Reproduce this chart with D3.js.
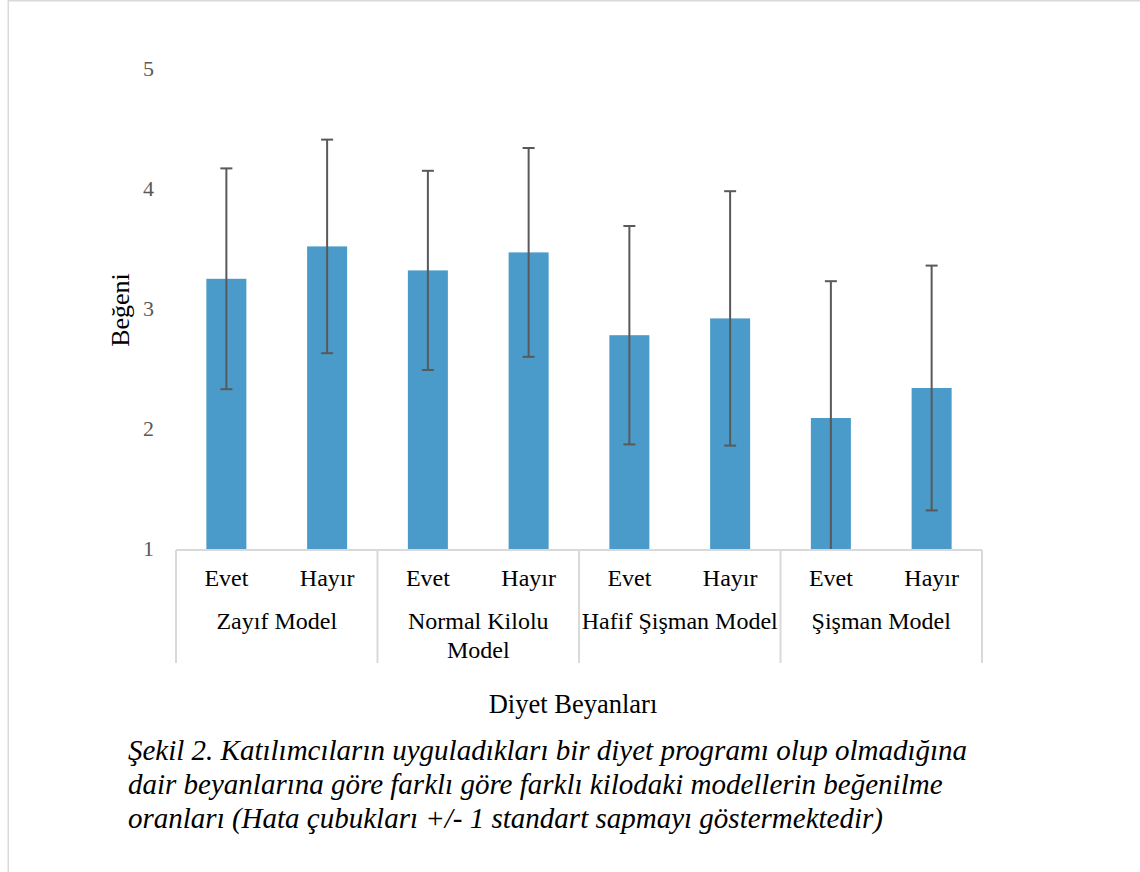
<!DOCTYPE html>
<html>
<head>
<meta charset="utf-8">
<script src="https://cdn.jsdelivr.net/npm/d3@7"></script>
<style>
  html, body { margin: 0; padding: 0; background: #fff; }
  svg { display: block; }
  text { font-family: "Liberation Serif", "Times New Roman", serif; }
</style>
</head>
<body>
<svg id="chart" width="1140" height="872"></svg>
<script>
// Model groups and the two diet answers within each group
const groups = ["Zayıf Model", "Normal Kilolu Model", "Hafif Şişman Model", "Şişman Model"];
const groupLines = [["Zayıf Model"], ["Normal Kilolu", "Model"], ["Hafif Şişman Model"], ["Şişman Model"]];
const answers = ["Evet", "Hayır"];

// Mean liking score per bar (group order, Evet then Hayır)
const means = [3.26, 3.53, 3.33, 3.48, 2.79, 2.93, 2.10, 2.35];
// One standard deviation per bar
const sds = [0.92, 0.89, 0.83, 0.87, 0.91, 1.06, 1.14, 1.02];

const yTicks = [1, 2, 3, 4, 5];

const captionLines = [
  "Şekil 2. Katılımcıların uyguladıkları bir diyet programı olup olmadığına",
  "dair beyanlarına göre farklı göre farklı kilodaki modellerin beğenilme",
  "oranları (Hata çubukları +/- 1 standart sapmayı göstermektedir)"
];

const bars = means.map((m, i) => ({
  key: groups[Math.floor(i / 2)] + "|" + answers[i % 2],
  group: groups[Math.floor(i / 2)],
  answer: answers[i % 2],
  mean: m,
  sd: sds[i]
}));

const svg = d3.select("#chart");
const gridColor = "#d9d9d9";

// Outer frame lines
svg.append("line").attr("x1", 8).attr("x2", 1140).attr("y1", 0.75).attr("y2", 0.75)
  .attr("stroke", gridColor).attr("stroke-width", 1.5);
svg.append("line").attr("x1", 8.25).attr("x2", 8.25).attr("y1", 0).attr("y2", 872)
  .attr("stroke", gridColor).attr("stroke-width", 1.5);

const plot = { left: 176, right: 982, top: 70, bottom: 550 };

const y = d3.scaleLinear().domain([1, 5]).range([plot.bottom, plot.top]);
const x = d3.scaleBand().domain(bars.map(d => d.key))
  .range([plot.left, plot.right]).paddingInner(0.603).paddingOuter(0.3015);
const xGroup = d3.scaleBand().domain(groups).range([plot.left, plot.right]);

// Y axis labels only
const yAxis = svg.append("g").attr("transform", `translate(${plot.left},0)`)
  .call(d3.axisLeft(y).tickValues(yTicks).tickFormat(d3.format("d")).tickSize(0).tickPadding(22));
yAxis.select(".domain").remove();
yAxis.selectAll("text").attr("font-family", "Liberation Serif, serif")
  .attr("font-size", 22).attr("fill", "#595959").attr("dy", "0.25em");

// Bars
svg.append("g").selectAll("rect").data(bars).join("rect")
  .attr("x", d => x(d.key)).attr("width", x.bandwidth())
  .attr("y", d => y(d.mean)).attr("height", d => y(1) - y(d.mean))
  .attr("fill", "#4a9bca");

// Error bars (+/- 1 SD), clipped to the axis minimum
const capW = 12;
const err = svg.append("g").attr("stroke", "#595959").attr("stroke-width", 2);
bars.forEach(d => {
  const cx = x(d.key) + x.bandwidth() / 2;
  const hi = d.mean + d.sd;
  const loRaw = d.mean - d.sd;
  const lo = Math.max(1, loRaw);
  err.append("line").attr("x1", cx).attr("x2", cx).attr("y1", y(hi)).attr("y2", y(lo));
  err.append("line").attr("x1", cx - capW / 2).attr("x2", cx + capW / 2).attr("y1", y(hi)).attr("y2", y(hi));
  if (loRaw >= 1) {
    err.append("line").attr("x1", cx - capW / 2).attr("x2", cx + capW / 2).attr("y1", y(lo)).attr("y2", y(lo));
  }
});

// Category axis: baseline and group dividers
const axisG = svg.append("g").attr("stroke", gridColor).attr("stroke-width", 2);
axisG.append("line").attr("x1", plot.left).attr("x2", plot.right)
  .attr("y1", plot.bottom).attr("y2", plot.bottom);
const dividers = groups.map(g => xGroup(g)).concat([plot.right]);
axisG.selectAll("line.div").data(dividers).join("line").attr("class", "div")
  .attr("x1", d => d).attr("x2", d => d).attr("y1", plot.bottom).attr("y2", 663);

// Answer labels under each bar
svg.append("g").selectAll("text").data(bars).join("text")
  .attr("x", d => x(d.key) + x.bandwidth() / 2).attr("y", 586)
  .attr("text-anchor", "middle").attr("font-size", 24).attr("fill", "#000")
  .text(d => d.answer);

// Group labels
const gl = svg.append("g").selectAll("text").data(groups).join("text")
  .attr("x", d => xGroup(d) + xGroup.bandwidth() / 2).attr("y", 629)
  .attr("text-anchor", "middle").attr("font-size", 24).attr("fill", "#000");
gl.each(function (d, i) {
  d3.select(this).selectAll("tspan").data(groupLines[i]).join("tspan")
    .attr("x", xGroup(d) + xGroup.bandwidth() / 2)
    .attr("dy", (t, j) => j === 0 ? 0 : 29)
    .text(t => t);
});

// Axis titles
svg.append("text").attr("transform", "translate(129,310) rotate(-90)")
  .attr("text-anchor", "middle").attr("font-size", 26).attr("fill", "#000").text("Beğeni");
svg.append("text").attr("x", 573).attr("y", 713)
  .attr("text-anchor", "middle").attr("font-size", 26.5).attr("fill", "#000").text("Diyet Beyanları");

// Figure caption
svg.append("g").selectAll("text").data(captionLines).join("text")
  .attr("x", 128).attr("y", (d, i) => 760 + i * 34)
  .attr("font-size", 29).attr("font-style", "italic").attr("fill", "#000")
  .text(d => d);
</script>
</body>
</html>
